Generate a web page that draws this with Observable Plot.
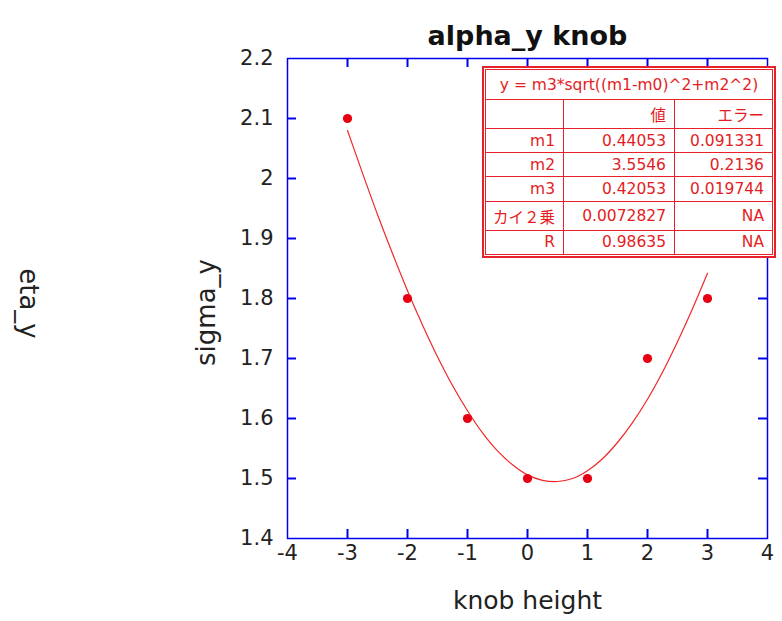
<!DOCTYPE html>
<html>
<head>
<meta charset="utf-8">
<script src="https://cdn.jsdelivr.net/npm/d3@7"></script>
<script src="https://cdn.jsdelivr.net/npm/@observablehq/plot@0.6"></script>
<style>
  body { margin: 0; background: #fff; color: #222; }
  #wrap { position: relative; width: 782px; height: 621px; overflow: hidden; background: #fff; }
  #fitbox {
    position: absolute; left: 482px; top: 66px; width: 294px; height: 192px;
    box-sizing: border-box; border: 2px solid #e8202a; padding: 1px; background: #fff;
  }
  #fitbox table {
    width: 100%; height: 100%; border-collapse: collapse; table-layout: fixed;
    font-family: "DejaVu Sans", "Noto Sans CJK JP", sans-serif; font-size: 15.5px; color: #e51c23;
  }
  #fitbox td { border: 1.5px solid #e8202a; text-align: right; padding: 0 8px 0 0; white-space: nowrap; }
  #fitbox td.formula { text-align: center; padding: 0; }
</style>
</head>
<body>
<div id="wrap"></div>
<script>
// ---- data ----
const xTicks = [-4, -3, -2, -1, 0, 1, 2, 3, 4];
const yTicks = [1.4, 1.5, 1.6, 1.7, 1.8, 1.9, 2.0, 2.1, 2.2];
const knobHeight = [-3, -2, -1, 0, 1, 2, 3];
const sigmaY = [2.1, 1.8, 1.6, 1.5, 1.5, 1.7, 1.8];
// fitted curve
const fitX = [-3, -2.75, -2.5, -2.25, -2, -1.75, -1.5, -1.25, -1, -0.75, -0.5, -0.25, 0,
              0.25, 0.5, 0.75, 1, 1.25, 1.5, 1.75, 2, 2.25, 2.5, 2.75, 3];
const fitY = [2.080, 2.009, 1.940, 1.875, 1.813, 1.756, 1.703, 1.655, 1.613, 1.576, 1.546, 1.523, 1.506,
              1.497, 1.495, 1.500, 1.513, 1.533, 1.560, 1.593, 1.632, 1.677, 1.728, 1.783, 1.842];
// fit result table
const fitFormula = "y = m3*sqrt((m1-m0)^2+m2^2)";
const tableHeader = ["", "値", "エラー"];
const paramNames = ["m1", "m2", "m3", "カイ２乗", "R"];
const paramValues = ["0.44053", "3.5546", "0.42053", "0.0072827", "0.98635"];
const paramErrors = ["0.091331", "0.2136", "0.019744", "NA", "NA"];
const titleText = "alpha_y knob";
const xLabel = "knob height";
const yLabel = "sigma_y";
const sideLabel = "eta_y";

const points = knobHeight.map((x, i) => ({x, y: sigmaY[i]}));
const fit = fitX.map((x, i) => ({x, y: fitY[i]}));
const blue = "#0000ee";
const red = "#e60012";
const inner = arr => arr.slice(1, -1);

const W = 782, H = 621, mL = 287, mR = 15, mT = 58, mB = 83;
const frameW = W - mL - mR, frameH = H - mT - mB, tickLen = 9;
const tickStyle = {stroke: blue, strokeWidth: 2};

const plot = Plot.plot({
  width: W, height: H,
  marginLeft: mL, marginRight: mR, marginTop: mT, marginBottom: mB,
  x: {domain: [-4, 4]},
  y: {domain: [1.4, 2.2]},
  style: {fontFamily: "DejaVu Sans, sans-serif", fontSize: "21px"},
  marks: [
    Plot.line(fit, {x: "x", y: "y", stroke: "#f02828", strokeWidth: 1.2, curve: "catmull-rom"}),
    Plot.dot(points, {x: "x", y: "y", r: 4.6, fill: red, stroke: "none"}),
    Plot.frame({stroke: blue, strokeWidth: 1.5}),
    Plot.axisX(xTicks, {anchor: "bottom", tickSize: 0, tickPadding: 7, tickFormat: d => String(d), label: null, fontSize: 21, fill: "#222"}),
    Plot.axisY(yTicks, {anchor: "left", tickSize: 0, tickPadding: 14, tickFormat: d => String(+d.toFixed(1)), label: null, fontSize: 21, fill: "#222"}),
    Plot.text([titleText], {frameAnchor: "top", dy: -33, fontSize: 27, fontWeight: "bold", fill: "#111"}),
    Plot.text([xLabel], {frameAnchor: "bottom", dy: 70, fontSize: 25, fill: "#222"}),
    Plot.text([yLabel], {frameAnchor: "left", textAnchor: "middle", rotate: -90, dx: -81, dy: 14, fontSize: 26, fill: "#222"}),
    Plot.text([sideLabel], {frameAnchor: "left", textAnchor: "middle", rotate: 90, dx: -259, dy: 5, fontSize: 26, fill: "#222"}),
    // inward ticks on all four sides
    Plot.ruleX(inner(xTicks), {x: d => d, insetTop: frameH - tickLen, ...tickStyle}),
    Plot.ruleX(inner(xTicks), {x: d => d, insetBottom: frameH - tickLen, ...tickStyle}),
    Plot.ruleY(inner(yTicks), {y: d => d, insetRight: frameW - tickLen, ...tickStyle}),
    Plot.ruleY(inner(yTicks), {y: d => d, insetLeft: frameW - tickLen, ...tickStyle})
  ]
});

const wrap = document.getElementById("wrap");
wrap.appendChild(plot);

// fit result table overlay
const box = document.createElement("div");
box.id = "fitbox";
const table = document.createElement("table");
const cols = document.createElement("colgroup");
[78, 111, null].forEach(w => { const c = document.createElement("col"); if (w) c.style.width = w + "px"; cols.appendChild(c); });
table.appendChild(cols);
const tr0 = table.insertRow();
tr0.style.height = "30px";
const f = tr0.insertCell(); f.colSpan = 3; f.className = "formula"; f.textContent = fitFormula;
const tr1 = table.insertRow();
tableHeader.forEach(t => { tr1.insertCell().textContent = t; });
paramNames.forEach((n, i) => {
  const r = table.insertRow();
  [n, paramValues[i], paramErrors[i]].forEach(t => { r.insertCell().textContent = t; });
});
box.appendChild(table);
wrap.appendChild(box);
</script>
</body>
</html>
